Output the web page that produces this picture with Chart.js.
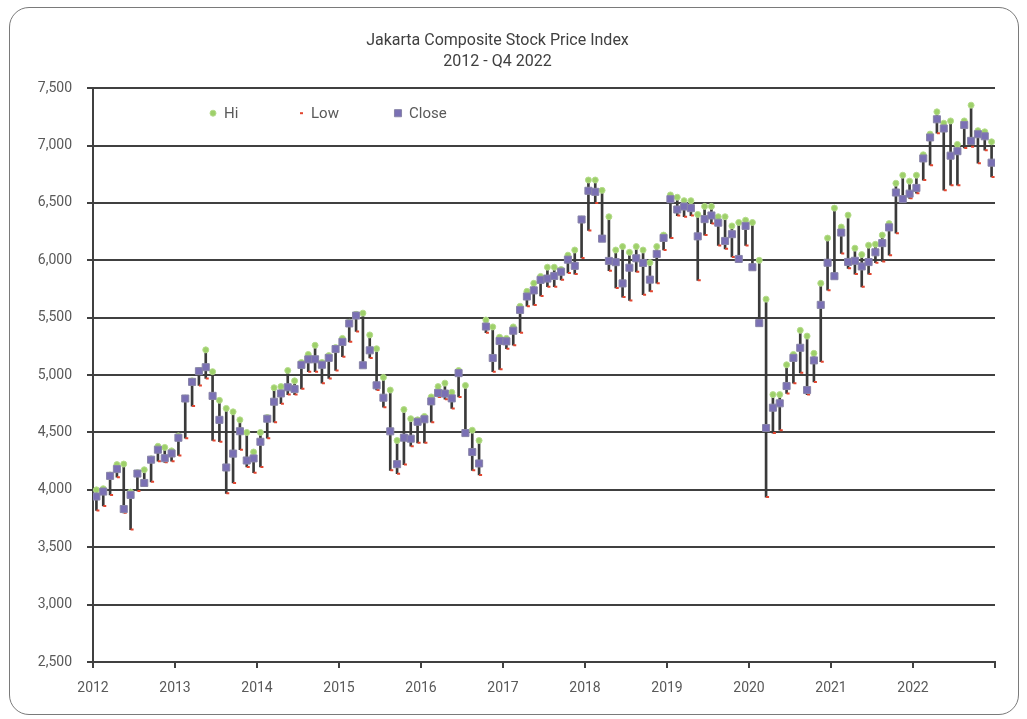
<!DOCTYPE html>
<html><head><meta charset="utf-8">
<script src="https://cdn.jsdelivr.net/npm/chart.js@4"></script>
<style>
html,body{margin:0;padding:0;background:#fff;}
#wrap{position:relative;width:1027px;height:719px;overflow:hidden;}
#frame{position:absolute;left:9px;top:7px;width:1010px;height:708px;border:1.5px solid #7a7a7a;border-radius:20px;box-sizing:border-box;}
canvas{position:absolute;left:0;top:0;}
</style></head><body>
<div id="wrap"><div id="frame"></div><canvas id="c" width="1027" height="719"></canvas></div>
<script>
const yearLabels = ['2012','2013','2014','2015','2016','2017','2018','2019','2020','2021','2022'];
const titleLines = ['Jakarta Composite Stock Price Index', '2012 - Q4 2022'];

const hiValues = [
  4000,4010,4130,4220,4225,3980,4150,4175,4270,4380,4370,4340,
  4470,4800,4950,5040,5220,5030,4780,4710,4680,4610,4500,4330,
  4500,4630,4890,4900,5040,4950,5110,5180,5260,5110,5170,5240,
  5320,5460,5530,5540,5350,5230,4980,4870,4430,4700,4620,4610,
  4640,4810,4900,4930,4850,5040,4910,4520,4430,5480,5420,5330,
  5320,5420,5600,5730,5800,5860,5940,5940,5920,6045,6090,6360,
  6700,6700,6610,6380,6090,6120,6070,6120,6090,5980,6120,6220,
  6570,6550,6520,6520,6400,6470,6470,6380,6380,6300,6330,6350,
  6330,6000,5662,4830,4830,5090,5180,5390,5340,5190,5800,6194,
  6455,6290,6394,6106,6050,6132,6140,6220,6320,6672,6742,6690,
  6742,6920,7100,7294,7195,7215,7010,7215,7352,7130,7120,7033
];
const lowValues = [
  3820,3860,3955,4110,3800,3654,3990,4040,4070,4250,4240,4250,
  4300,4450,4730,4910,4970,4430,4420,3970,4060,4350,4200,4150,
  4200,4450,4590,4750,4830,4830,4880,5030,5030,4930,4970,5040,
  5160,5290,5380,5070,5150,4870,4720,4170,4140,4220,4380,4410,
  4410,4590,4810,4790,4710,4810,4490,4170,4130,5370,5030,5050,
  5230,5260,5370,5600,5610,5690,5770,5770,5830,5890,5880,6020,
  6260,6500,6170,5910,5760,5680,5650,5900,5700,5730,5800,6090,
  6194,6390,6380,6390,5826,6220,6320,6130,6100,6030,5990,6130,
  5920,5440,3937,4495,4520,4840,4930,5020,4830,4940,5116,5740,
  5850,6060,5930,5880,5769,5880,5980,5990,6045,6237,6524,6540,
  6585,6699,6829,7108,6611,6655,6655,6980,6990,6847,6960,6727
];
const closeValues = [
  3942,3985,4122,4181,3833,3956,4142,4060,4263,4350,4276,4317,
  4454,4796,4941,5034,5069,4819,4610,4195,4316,4511,4256,4274,
  4419,4620,4768,4840,4894,4879,5089,5137,5138,5090,5150,5227,
  5289,5450,5519,5086,5216,4911,4803,4510,4224,4455,4446,4593,
  4615,4771,4845,4839,4797,5017,4495,4330,4230,5423,5149,5297,
  5294,5387,5568,5685,5738,5830,5841,5864,5901,6006,5952,6356,
  6606,6597,6189,5995,5984,5799,5936,6018,5977,5832,6056,6195,
  6533,6443,6469,6455,6209,6359,6391,6328,6169,6228,6012,6300,
  5940,5453,4539,4716,4754,4905,5150,5238,4870,5128,5612,5979,
  5862,6242,5986,5996,5947,5985,6070,6150,6287,6591,6534,6581,
  6631,6888,7071,7229,7149,6912,6951,7179,7041,7099,7081,6851
];
const yTicks = [2500,3000,3500,4000,4500,5000,5500,6000,6500,7000,7500];

const FONT = 'Roboto, "Liberation Sans", sans-serif';
const monthCount = closeValues.length;
const pos = i => i + 0.5;

const rangeData = hiValues.map((h, i) => ({x: pos(i), y: [lowValues[i], h]}));
const hiData = hiValues.map((v, i) => ({x: pos(i), y: v}));
const lowData = lowValues.map((v, i) => ({x: pos(i), y: v}));
const closeData = closeValues.map((v, i) => ({x: pos(i), y: v}));

const legendPlugin = {
  id: 'inlineLegend',
  afterDatasetsDraw(chart) {
    const ctx = chart.ctx;
    const y = chart.chartArea.top + 25;
    const items = [
      {ds: 1, mx: 213, tx: 224},
      {ds: 2, mx: 300, tx: 311},
      {ds: 3, mx: 398, tx: 409}
    ];
    ctx.save();
    items.forEach(it => {
      const ds = chart.data.datasets[it.ds];
      ctx.fillStyle = ds.pointBackgroundColor;
      ctx.strokeStyle = ds.pointBorderColor;
      ctx.lineWidth = ds.pointBorderWidth;
      Chart.helpers.drawPoint(ctx, {pointStyle: ds.pointStyle, radius: ds.pointRadius, rotation: 0, borderWidth: ds.pointBorderWidth}, it.mx, y);
      ctx.fillStyle = '#595959';
      ctx.font = '15px ' + FONT;
      ctx.textBaseline = 'middle';
      ctx.textAlign = 'left';
      ctx.fillText(ds.label, it.tx, y + 1);
    });
    ctx.restore();
  }
};

new Chart(document.getElementById('c'), {
  type: 'bar',
  data: {
    datasets: [
      {type: 'bar', label: 'Range', data: rangeData, backgroundColor: '#3a3a3a', barThickness: 2, borderWidth: 0, borderSkipped: false, order: 10},
      {type: 'line', label: 'Hi', data: hiData, showLine: false, pointStyle: 'circle', pointRadius: 3, pointBackgroundColor: '#9ed06a', pointBorderColor: '#b5dc8c', pointBorderWidth: 1, order: 2},
      {type: 'line', label: 'Low', data: lowData, showLine: false, pointStyle: 'dash', pointRadius: 3, pointBackgroundColor: '#e2452f', pointBorderColor: '#e2452f', pointBorderWidth: 2, order: 3},
      {type: 'line', label: 'Close', data: closeData, showLine: false, pointStyle: 'rect', pointRadius: 5, pointBackgroundColor: '#7a70b4', pointBorderColor: '#8884a8', pointBorderWidth: 1, order: 1}
    ]
  },
  options: {
    responsive: false,
    animation: false,
    events: [],
    layout: {padding: {left: 0, right: 32, top: 0, bottom: 0}},
    plugins: {
      legend: {display: false},
      tooltip: {enabled: false},
      title: {
        display: true,
        text: titleLines,
        color: '#404040',
        font: {family: FONT, size: 16, weight: 'normal', lineHeight: 1.35},
        padding: {top: 30, bottom: 15}
      }
    },
    scales: {
      x: {
        type: 'linear',
        min: 0, max: monthCount,
        offset: false,
        afterFit: s => { s.height = 57; },
        afterBuildTicks: s => { s.ticks = []; for (let v = 0; v <= monthCount; v += 12) s.ticks.push({value: v}); },
        ticks: {
          autoSkip: false, maxRotation: 0, padding: 12,
          color: '#595959', font: {family: FONT, size: 14},
          callback: v => yearLabels[v / 12] || ''
        },
        grid: {display: true, drawOnChartArea: false, drawTicks: true, tickLength: 6, color: '#404040', lineWidth: 2, offset: false},
        border: {display: true, color: '#404040', width: 2}
      },
      y: {
        type: 'linear',
        min: 2500, max: 7500,
        afterFit: s => { s.width = 93; },
        afterBuildTicks: s => { s.ticks = yTicks.map(v => ({value: v})); },
        ticks: {padding: 15, color: '#595959', font: {family: FONT, size: 14}},
        grid: {color: '#404040', lineWidth: 2, tickLength: 6, drawTicks: true},
        border: {display: true, color: '#404040', width: 2}
      }
    }
  },
  plugins: [legendPlugin]
});
</script>
</body></html>
